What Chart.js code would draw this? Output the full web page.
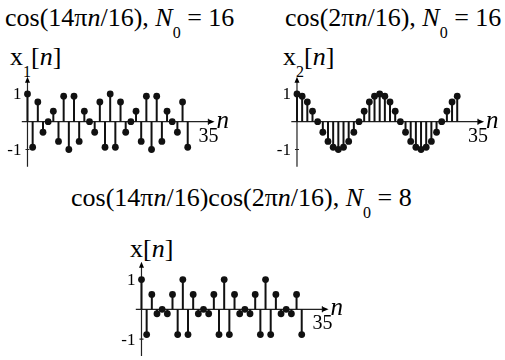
<!DOCTYPE html>
<html lang="en">
<head>
    <meta charset="UTF-8">
    <title>Discrete-time cosines</title>
    <script src="https://cdn.jsdelivr.net/npm/chart.js"></script>
    <style>
        body {
            margin: 0;
            background: #fff;
        }

        .page {
            position: relative;
            width: 505px;
            height: 360px;
            overflow: hidden;
            font-family: "Liberation Serif", Tinos, "Times New Roman", Times, "DejaVu Serif", serif;
            color: #000;
        }

        .page canvas, .label {
            position: absolute;
        }

        .label {
            font-size: 26px;
            line-height: 26px;
            white-space: nowrap;
        }

        .label .sub {
            position: relative;
            font-size: 16px;
            line-height: 0;
            top: 12px;
        }
    </style>
</head>
<body>
<div class="page">
    <div class="label" style="left:5px; top:5px">cos(14π<i>n</i>/16), <i>N</i><span class="sub">0</span> = 16</div>
    <div class="label" style="left:285px; top:5px">cos(2π<i>n</i>/16), <i>N</i><span class="sub">0</span> = 16</div>
    <div class="label" style="left:10px; top:44px">x<span class="sub">1</span>[<i>n</i>]</div>
    <div class="label" style="left:283px; top:44px">x<span class="sub">2</span>[<i>n</i>]</div>
    <canvas id="x1Chart" width="250" height="120" style="left:0; top:60px"></canvas>
    <canvas id="x2Chart" width="250" height="120" style="left:255px; top:60px"></canvas>

    <div class="label" style="left:71px; top:185px">cos(14π<i>n</i>/16)cos(2π<i>n</i>/16), <i>N</i><span class="sub">0</span> = 8</div>
    <div class="label" style="left:130px; top:236px">x[<i>n</i>]</div>
    <canvas id="xChart" width="260" height="120" style="left:100px; top:240px"></canvas>
</div>

<script>
    const serif = '"Liberation Serif", Tinos, "Times New Roman", Times, "DejaVu Serif", serif';

    // sample index
    const n = [0, 1, 2, 3, 4, 5, 6, 7, 8, 9, 10, 11, 12, 13, 14, 15,
        16, 17, 18, 19, 20, 21, 22, 23, 24, 25, 26, 27, 28, 29, 30, 31];

    // x1[n] = cos(14πn/16)
    const x1 = [1, -0.92, 0.71, -0.38, 0, 0.38, -0.71, 0.92, -1, 0.92, -0.71, 0.38, 0, -0.38, 0.71, -0.92,
        1, -0.92, 0.71, -0.38, 0, 0.38, -0.71, 0.92, -1, 0.92, -0.71, 0.38, 0, -0.38, 0.71, -0.92];

    // x2[n] = cos(2πn/16)
    const x2 = [1, 0.92, 0.71, 0.38, 0, -0.38, -0.71, -0.92, -1, -0.92, -0.71, -0.38, 0, 0.38, 0.71, 0.92,
        1, 0.92, 0.71, 0.38, 0, -0.38, -0.71, -0.92, -1, -0.92, -0.71, -0.38, 0, 0.38, 0.71, 0.92];

    // x[n] = x1[n] * x2[n]
    const x = [1, -0.85, 0.5, -0.15, 0, -0.15, 0.5, -0.85, 1, -0.85, 0.5, -0.15, 0, -0.15, 0.5, -0.85,
        1, -0.85, 0.5, -0.15, 0, -0.15, 0.5, -0.85, 1, -0.85, 0.5, -0.15, 0, -0.15, 0.5, -0.85];

    const yTicks = [1, -1];
    const xTicks = [35];

    // axes through the origin with arrow heads, drawn from the chart's own scales
    const stemAxes = {
        id: 'stemAxes',
        beforeDatasetsDraw(chart) {
            const {ctx, chartArea: a, scales} = chart;
            const x0 = scales.x.getPixelForValue(0);
            const y0 = scales.y.getPixelForValue(0);
            ctx.save();
            ctx.strokeStyle = '#222';
            ctx.fillStyle = '#000';
            ctx.lineWidth = 1.2;

            ctx.beginPath();
            ctx.moveTo(a.left, y0);
            ctx.lineTo(a.right - 4, y0);
            ctx.moveTo(x0, a.bottom);
            ctx.lineTo(x0, a.top + 4);
            // tick marks
            yTicks.forEach(v => {
                const py = scales.y.getPixelForValue(v);
                ctx.moveTo(x0 - 2, py);
                ctx.lineTo(x0 + 2, py);
            });
            xTicks.forEach(v => {
                const px = scales.x.getPixelForValue(v);
                ctx.moveTo(px, y0 - 3);
                ctx.lineTo(px, y0 + 3);
            });
            ctx.stroke();

            // arrow heads
            ctx.beginPath();
            ctx.moveTo(a.right, y0);
            ctx.lineTo(a.right - 6, y0 - 2.5);
            ctx.lineTo(a.right - 6, y0 + 2.5);
            ctx.closePath();
            ctx.moveTo(x0, a.top);
            ctx.lineTo(x0 - 2.5, a.top + 6);
            ctx.lineTo(x0 + 2.5, a.top + 6);
            ctx.closePath();
            ctx.fill();

            // tick labels
            ctx.font = '17px ' + serif;
            ctx.textAlign = 'right';
            ctx.textBaseline = 'middle';
            yTicks.forEach(v => {
                ctx.fillText(String(v), x0 - 6, scales.y.getPixelForValue(v) + 1);
            });
            ctx.font = '20px ' + serif;
            ctx.textAlign = 'center';
            ctx.textBaseline = 'alphabetic';
            xTicks.forEach(v => {
                ctx.fillText(String(v), scales.x.getPixelForValue(v), y0 + 20);
            });

            // axis name
            ctx.font = 'italic 25px ' + serif;
            ctx.textAlign = 'left';
            ctx.fillText('n', a.right + 2, y0 + 6);
            ctx.restore();
        }
    };

    function stemChart(id, values, padding, yMin, yMax) {
        const points = n.map((k, i) => ({x: k, y: values[i]}));
        // each stem is a segment from 0 to the sample, broken by a null point
        const stems = [];
        n.forEach((k, i) => {
            stems.push({x: k, y: 0}, {x: k, y: values[i]}, {x: k, y: null});
        });
        return new Chart(document.getElementById(id), {
            type: 'scatter',
            data: {
                datasets: [{
                    data: stems,
                    showLine: true,
                    spanGaps: false,
                    borderColor: '#111',
                    borderWidth: 2,
                    pointRadius: 0
                }, {
                    data: points,
                    pointRadius: 3.4,
                    pointBackgroundColor: '#111',
                    pointBorderWidth: 0
                }]
            },
            options: {
                responsive: false,
                animation: false,
                events: [],
                layout: {padding: padding},
                scales: {
                    x: {type: 'linear', min: -1.1, max: 36.2, offset: false, display: false},
                    y: {type: 'linear', min: yMin, max: yMax, offset: false, display: false}
                },
                plugins: {
                    legend: {display: false},
                    tooltip: {enabled: false}
                }
            },
            plugins: [stemAxes]
        });
    }

    stemChart('x1Chart', x1, {left: 21.8, right: 35.4, top: 16.7, bottom: 13.3}, -1.62, 1.62);
    stemChart('x2Chart', x2, {left: 36.3, right: 20.9, top: 16.7, bottom: 13.3}, -1.62, 1.62);
    stemChart('xChart', x, {left: 35.8, right: 31.4, top: 21.7, bottom: 0}, -1.57, 1.6);
</script>
</body>
</html>
